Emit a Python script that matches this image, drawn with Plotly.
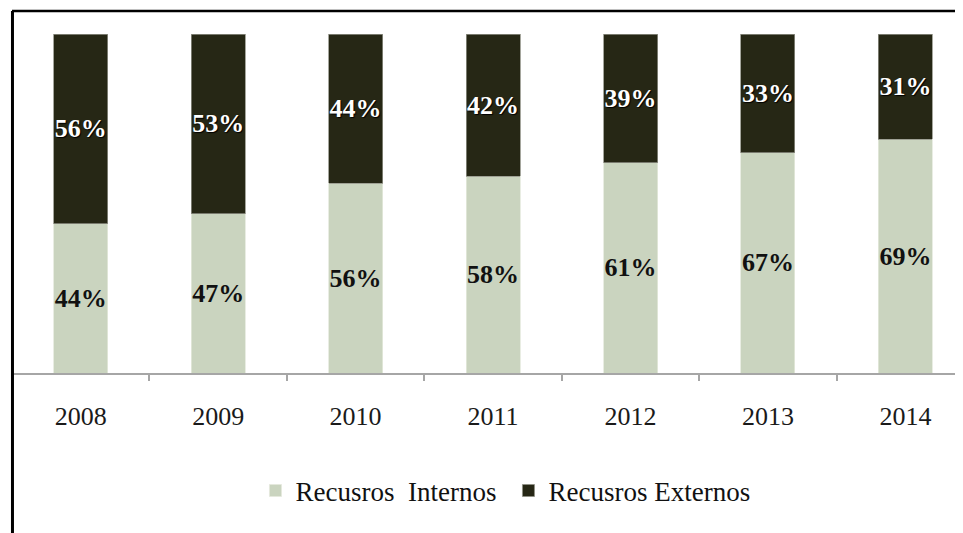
import plotly.graph_objects as go

years = ["2008", "2009", "2010", "2011", "2012", "2013", "2014"]
internos = [44, 47, 56, 58, 62, 65, 69]
externos = [56, 53, 44, 42, 38, 35, 31]
internos_labels = ["44%", "47%", "56%", "58%", "61%", "67%", "69%"]
externos_labels = ["56%", "53%", "44%", "42%", "39%", "33%", "31%"]

LIGHT = "#cad4bf"
DARK = "#262715"
FONT = "Liberation Serif"

fig = go.Figure()
fig.add_trace(go.Bar(
    x=years, y=internos, name="Recusros  Internos",
    marker=dict(color=LIGHT, line=dict(color="#e4e9dc", width=0.8)),
    text=internos_labels, textposition="inside", insidetextanchor="middle",
    constraintext="none", textangle=0,
    textfont=dict(family=FONT, size=26, color="#111111", weight="bold"),
    width=0.393,
))
fig.add_trace(go.Bar(
    x=years, y=externos, name="Recusros Externos",
    marker=dict(color=DARK, line=dict(color="#8f9085", width=0.8)),
    text=externos_labels, textposition="inside", insidetextanchor="middle",
    constraintext="none", textangle=0,
    textfont=dict(family=FONT, size=26, color="#ffffff", weight="bold",
                  shadow="1px 1px 1px #000000"),
    width=0.393,
))

fig.update_layout(
    barmode="stack",
    width=963, height=533,
    margin=dict(l=4, r=8, t=26, b=168),
    paper_bgcolor="white", plot_bgcolor="white",
    font=dict(family=FONT, color="#1a1a1a"),
    showlegend=True,
    legend=dict(orientation="h", x=0.256, xanchor="left", y=-0.348, yanchor="middle",
                font=dict(family=FONT, size=27, color="#111111"),
                traceorder="normal", entrywidth=208, entrywidthmode="pixels",
                bgcolor="rgba(0,0,0,0)"),
    xaxis=dict(range=[-0.5, 6.419], showgrid=False, zeroline=False,
               showline=True, linecolor="#a6a6a6", linewidth=1.5,
               ticks="outside", tickson="boundaries", ticklen=6, tickcolor="#a6a6a6",
               tickwidth=1.5, ticklabelstandoff=19,
               tickfont=dict(family=FONT, size=26, color="#1a1a1a")),
    yaxis=dict(range=[0, 100], visible=False, showgrid=False, zeroline=False),
    shapes=[
        dict(type="line", xref="paper", yref="paper", x0=0.0005, x1=0.0005,
             y0=-0.5, y1=1.068, line=dict(color="black", width=3)),
        dict(type="line", xref="paper", yref="paper", x0=0, x1=1.02,
             y0=1.068, y1=1.068, line=dict(color="black", width=2.5)),
    ],
)

fig.write_html("out.html")
